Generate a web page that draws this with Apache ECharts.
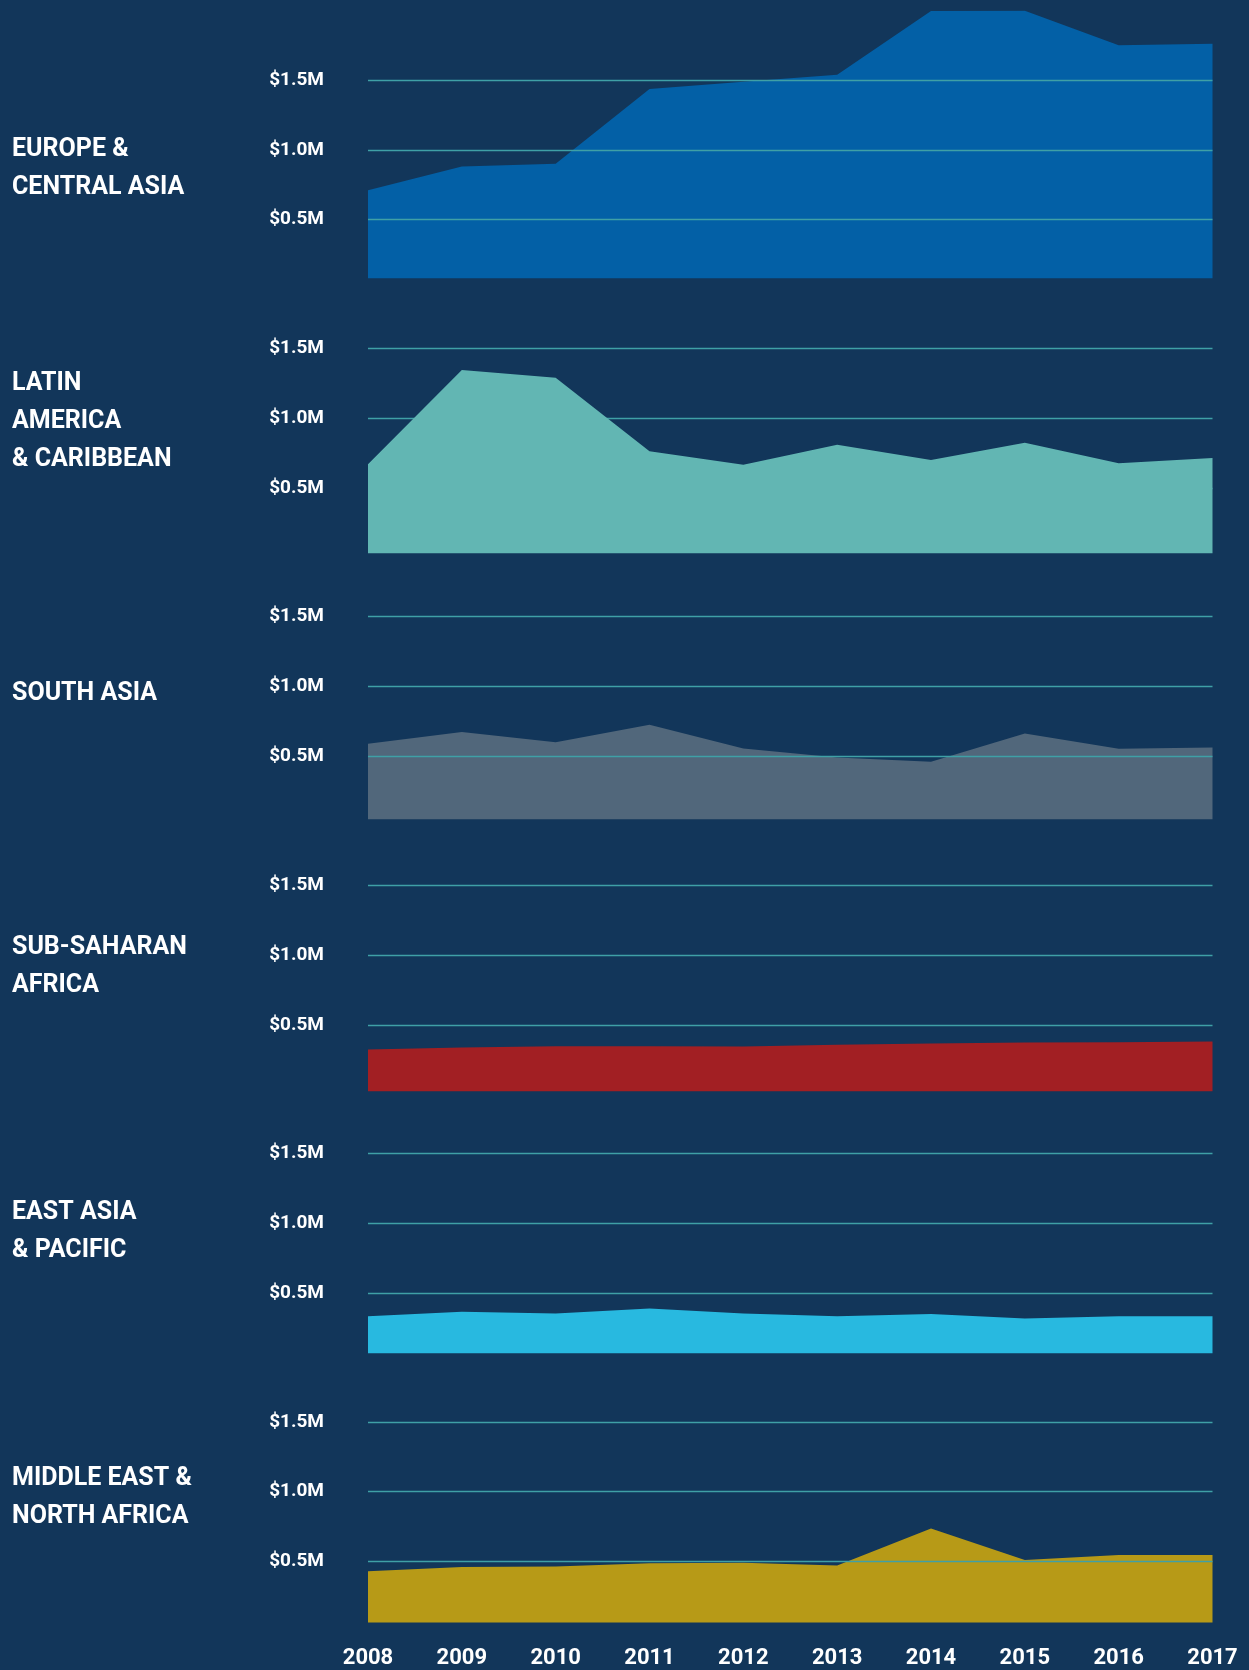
<!DOCTYPE html>
<html>
<head>
<meta charset="utf-8">
<script src="https://cdn.jsdelivr.net/npm/echarts@6/dist/echarts.min.js"></script>
<style>
  html, body { margin: 0; padding: 0; background: #12365a; }
  #chart { width: 1249px; height: 1670px; }
</style>
</head>
<body>
<div id="chart"></div>
<script>
// ---- data ----
const years = ['2008','2009','2010','2011','2012','2013','2014','2015','2016','2017'];
const regionNames = [
  'EUROPE &\nCENTRAL ASIA',
  'LATIN\nAMERICA\n& CARIBBEAN',
  'SOUTH ASIA',
  'SUB-SAHARAN\nAFRICA',
  'EAST ASIA\n& PACIFIC',
  'MIDDLE EAST &\nNORTH AFRICA'
];
// values in $ millions
const europeCentralAsia = [0.71, 0.88, 0.90, 1.435, 1.487, 1.538, 1.994, 1.996, 1.748, 1.76];
const latinAmerica      = [0.67, 1.345, 1.29, 0.763, 0.667, 0.81, 0.70, 0.825, 0.677, 0.715];
const southAsia         = [0.59, 0.674, 0.602, 0.726, 0.557, 0.492, 0.461, 0.664, 0.554, 0.564];
const subSaharanAfrica  = [0.323, 0.337, 0.346, 0.346, 0.344, 0.356, 0.366, 0.373, 0.375, 0.38];
const eastAsiaPacific   = [0.335, 0.366, 0.354, 0.39, 0.354, 0.335, 0.351, 0.318, 0.335, 0.335];
const middleEastNAfrica = [0.43, 0.461, 0.464, 0.487, 0.49, 0.471, 0.736, 0.511, 0.547, 0.547];
// baseline value where each filled area starts
const areaBaselines = [0.08, 0.033, 0.05, 0.024, 0.07, 0.063];
const yTickLabels = ['', '$0.5M', '$1.0M', '$1.5M', ''];

const seriesData = [europeCentralAsia, latinAmerica, southAsia, subSaharanAfrica, eastAsiaPacific, middleEastNAfrica];

// ---- styling ----
const colors = ['#0360a6', '#62b6b3', '#51677b', '#a21f23', '#28b9e0', '#b79a17'];
const gridOverArea = [true, false, true, true, true, true];
const titleTops = [130.7, 364.3, 675, 928.3, 1193.3, 1459.3];
const gridColor = '#3fa0a6';
const fontFam = 'Roboto, "Noto Sans", sans-serif';
const panelStep = 268.35;
const firstTop = 10.15;
const panelHeight = 279.4;

const chart = echarts.init(document.getElementById('chart'), null, { renderer: 'canvas' });

const grids = [], xAxes = [], yAxes = [], series = [], titles = [];
for (let i = 0; i < 6; i++) {
  const top = firstTop + panelStep * i;
  grids.push({ left: 368, right: 36.5, top: top, height: panelHeight, containLabel: false });
  xAxes.push({
    type: 'category', gridIndex: i, data: years, boundaryGap: false,
    axisLine: { show: false }, axisTick: { show: false }, splitLine: { show: false },
    axisLabel: {
      show: i === 5, color: '#ffffff', fontFamily: fontFam, fontWeight: 'bold',
      fontSize: 22, margin: 16
    }
  });
  yAxes.push({
    type: 'value', gridIndex: i, min: 0, max: 2.0, interval: 0.5,
    z: gridOverArea[i] ? 5 : 0,
    axisLine: { show: false }, axisTick: { show: false },
    axisLabel: {
      color: '#ffffff', fontFamily: fontFam, fontWeight: 'bold', fontSize: 19, margin: 44,
      padding: [9, 0, 0, 0],
      formatter: v => yTickLabels[Math.round(v / 0.5)] || ''
    },
    splitLine: {
      show: true,
      lineStyle: { width: 1.3, color: ['rgba(0,0,0,0)', gridColor, gridColor, gridColor, 'rgba(0,0,0,0)'] }
    }
  });
  series.push({
    type: 'line', xAxisIndex: i, yAxisIndex: i, data: seriesData[i],
    symbol: 'none', silent: true, z: 2,
    lineStyle: { width: 0, color: colors[i] },
    areaStyle: { color: colors[i], opacity: 1, origin: areaBaselines[i] }
  });
  titles.push({
    text: regionNames[i], left: 12, top: titleTops[i], padding: 0,
    textStyle: { color: '#ffffff', fontFamily: fontFam, fontWeight: 'bold', fontSize: 25, lineHeight: 38 }
  });
}

chart.setOption({
  backgroundColor: '#12365a',
  animation: false,
  title: titles,
  grid: grids,
  xAxis: xAxes,
  yAxis: yAxes,
  series: series
});
</script>
</body>
</html>
